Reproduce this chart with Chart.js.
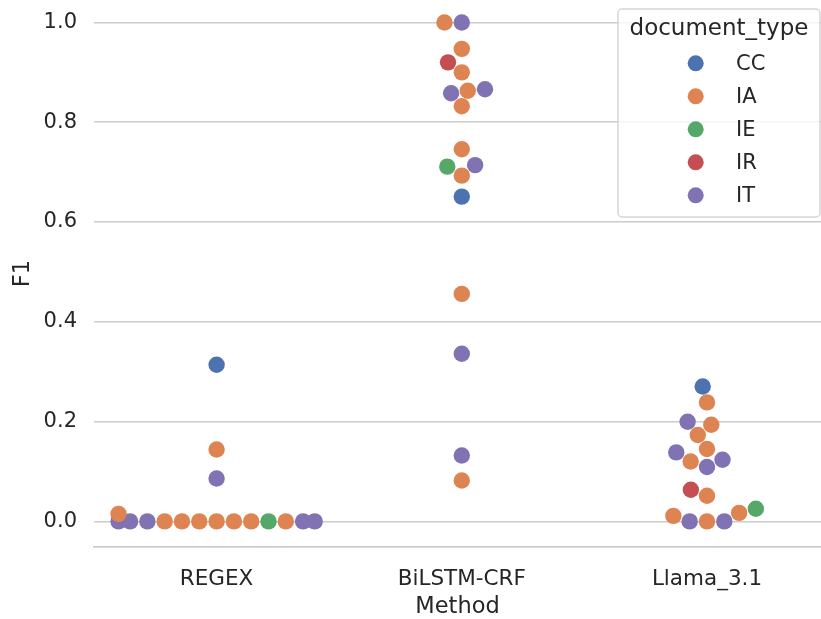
<!DOCTYPE html>
<html>
<head>
<meta charset="utf-8">
<script src="https://cdn.jsdelivr.net/npm/chart.js@4.4.0/dist/chart.umd.min.js"></script>
<style>
html,body{margin:0;padding:0;background:#ffffff;}
canvas{display:block;}
</style>
</head>
<body>
<canvas id="c" width="821" height="619"></canvas>
<script>
// ---------------- data ----------------
const methods = ['REGEX', 'BiLSTM-CRF', 'Llama_3.1'];
const docTypes = ['CC', 'IA', 'IE', 'IR', 'IT'];
const palette = ['#4C72B0', '#DD8452', '#55A868', '#C44E52', '#8172B3'];
const yTickValues = [0.0, 0.2, 0.4, 0.6, 0.8, 1.0];

const regexF1   = [0.015, 0, 0, 0, 0, 0, 0, 0, 0, 0, 0, 0, 0, 0, 0.086, 0.144, 0.314];
const regexType = ['IA', 'IA', 'IA', 'IA', 'IA', 'IA', 'IA', 'IE', 'IT', 'IA', 'IT', 'IT', 'IT', 'IT', 'IT', 'IA', 'CC'];

const bilstmF1   = [0.082, 0.132, 0.336, 0.456, 0.651, 0.693, 0.711, 0.714, 0.746, 0.832, 0.858, 0.863, 0.866, 0.900, 0.920, 0.947, 1.0, 1.0];
const bilstmType = ['IA', 'IT', 'IT', 'IA', 'CC', 'IA', 'IE', 'IT', 'IA', 'IA', 'IT', 'IA', 'IT', 'IA', 'IR', 'IA', 'IT', 'IA'];

const llamaF1   = [0, 0, 0, 0.011, 0.017, 0.0255, 0.0515, 0.0635, 0.109, 0.120, 0.1236, 0.1383, 0.1451, 0.1731, 0.1938, 0.1998, 0.2385, 0.2705];
const llamaType = ['IA', 'IT', 'IT', 'IA', 'IA', 'IE', 'IA', 'IR', 'IT', 'IA', 'IT', 'IT', 'IA', 'IA', 'IA', 'IT', 'IA', 'CC'];

const groups = [
  {center: 0, f1: regexF1, type: regexType},
  {center: 1, f1: bilstmF1, type: bilstmType},
  {center: 2, f1: llamaF1, type: llamaType}
];

// ---------------- style ----------------
const FONT = "'DejaVu Sans', 'Liberation Sans', sans-serif";
const TEXT = '#262626';
const GRID = '#cccccc';
const POINT_R = 8.2;     // drawn radius (px)
const SWARM_R = 8.24;    // radius used for swarm layout (px)
const HALF_WIDTH = 0.4;  // gutter half width (category units)

function buildDatasets(xs) {
  return docTypes.map((t, ti) => {
    const pts = [];
    groups.forEach((g, gi) => {
      g.f1.forEach((v, i) => {
        if (g.type[i] === t) pts.push({x: xs ? xs[gi][i] : g.center, y: v});
      });
    });
    return {
      label: t,
      data: pts,
      backgroundColor: palette[ti],
      borderWidth: 0,
      pointRadius: POINT_R,
      pointHoverRadius: POINT_R
    };
  });
}

// seaborn-like beeswarm, in pixel space
function swarmLayout(values, center, xs, ys, r) {
  const idx = values.map((v, i) => i).sort((a, b) => (values[a] - values[b]) || (a - b));
  const cx = xs.getPixelForValue(center);
  const pts = idx.map(i => ({i: i, x: cx, y: -ys.getPixelForValue(values[i])}));
  const swarm = [pts[0]];
  for (let k = 1; k < pts.length; k++) {
    const p = pts[k];
    const nb = [];
    for (let j = swarm.length - 1; j >= 0; j--) {
      if (p.y - swarm[j].y < 2 * r) nb.push(swarm[j]); else break;
    }
    nb.reverse();
    const cands = [{x: p.x}];
    let leftFirst = true;
    for (const q of nb) {
      const dy = p.y - q.y;
      const dx = Math.sqrt(Math.max(4 * r * r - dy * dy, 0)) * 1.05;
      const cl = {x: q.x - dx}, cr = {x: q.x + dx};
      if (leftFirst) cands.push(cl, cr); else cands.push(cr, cl);
      leftFirst = !leftFirst;
    }
    cands.forEach((c, ci) => { c.off = Math.round(Math.abs(c.x - cx) * 1e6) / 1e6; c.ci = ci; });
    cands.sort((a, b) => (a.off - b.off) || (a.ci - b.ci));
    let chosen = cands[0].x;
    if (nb.length) {
      for (const c of cands) {
        let ok = true;
        for (const q of nb) {
          const ddx = q.x - c.x, ddy = q.y - p.y;
          if (ddx * ddx + ddy * ddy < 4 * r * r) { ok = false; break; }
        }
        if (ok) { chosen = c.x; break; }
      }
    }
    p.x = chosen;
    swarm.push(p);
  }
  const out = new Array(values.length);
  for (const p of swarm) {
    let xv = xs.getValueForPixel(p.x);
    if (xv < center - HALF_WIDTH) xv = center - HALF_WIDTH;
    if (xv > center + HALF_WIDTH) xv = center + HALF_WIDTH;
    out[p.i] = xv;
  }
  return out;
}

const legendPlugin = {
  id: 'hueLegend',
  afterDraw(chart) {
    const ctx = chart.ctx;
    ctx.save();
    const bx = 618, by = 9, bw = 202, bh = 208, rr = 4;
    ctx.beginPath();
    ctx.moveTo(bx + rr, by);
    ctx.arcTo(bx + bw, by, bx + bw, by + bh, rr);
    ctx.arcTo(bx + bw, by + bh, bx, by + bh, rr);
    ctx.arcTo(bx, by + bh, bx, by, rr);
    ctx.arcTo(bx, by, bx + bw, by, rr);
    ctx.closePath();
    ctx.fillStyle = 'rgba(255,255,255,0.8)';
    ctx.fill();
    ctx.lineWidth = 1.5;
    ctx.strokeStyle = 'rgba(204,204,204,0.8)';
    ctx.stroke();

    ctx.fillStyle = TEXT;
    ctx.textBaseline = 'middle';
    ctx.textAlign = 'center';
    ctx.font = '23px ' + FONT;
    ctx.fillText('document_type', bx + bw / 2, 29);

    ctx.textAlign = 'left';
    ctx.font = '21px ' + FONT;
    chart.data.datasets.forEach((ds, k) => {
      const yy = 63.3 + k * 33;
      ctx.beginPath();
      ctx.arc(695.7, yy, 8, 0, Math.PI * 2);
      ctx.fillStyle = ds.backgroundColor;
      ctx.fill();
      ctx.fillStyle = TEXT;
      ctx.fillText(ds.label, 736, yy + 1);
    });
    ctx.restore();
  }
};

const chart = new Chart(document.getElementById('c'), {
  type: 'scatter',
  data: {datasets: buildDatasets(null)},
  options: {
    responsive: false,
    animation: false,
    devicePixelRatio: 1,
    layout: {autoPadding: false, padding: 0},
    plugins: {legend: {display: false}, tooltip: {enabled: false}},
    events: [],
    scales: {
      x: {
        type: 'linear',
        min: -0.5, max: 2.465,
        grid: {display: false},
        border: {display: true, color: GRID, width: 1.8},
        afterBuildTicks: s => { s.ticks = [0, 1, 2].map(v => ({value: v})); },
        afterFit: s => { s.height = 72; s.paddingLeft = 0; s.paddingRight = 0; },
        ticks: {
          color: TEXT,
          font: {family: FONT, size: 21.5},
          padding: 12,
          maxRotation: 0,
          autoSkip: false,
          callback: v => methods[v] !== undefined ? methods[v] : ''
        },
        title: {display: true, text: 'Method', color: TEXT, font: {family: FONT, size: 22.5, lineHeight: 1.04}, padding: {top: 0, bottom: 0}}
      },
      y: {
        type: 'linear',
        min: -0.0513, max: 1.045,
        grid: {color: GRID, lineWidth: 1.5, drawTicks: false},
        border: {display: false},
        afterBuildTicks: s => { s.ticks = yTickValues.map(v => ({value: v})); },
        afterFit: s => { s.width = 94; s.paddingTop = 0; s.paddingBottom = 0; },
        ticks: {
          color: TEXT,
          font: {family: FONT, size: 21},
          padding: 17,
          callback: v => Number(v).toFixed(1)
        },
        title: {display: true, text: 'F1', color: TEXT, font: {family: FONT, size: 22.5}, padding: {top: 10, bottom: 0}}
      }
    }
  },
  plugins: [legendPlugin]
});

// compute swarm offsets via the chart's own scales, then redraw
const xsPos = groups.map(g => swarmLayout(g.f1, g.center, chart.scales.x, chart.scales.y, SWARM_R));
chart.data.datasets = buildDatasets(xsPos);
chart.update('none');
</script>
</body>
</html>
